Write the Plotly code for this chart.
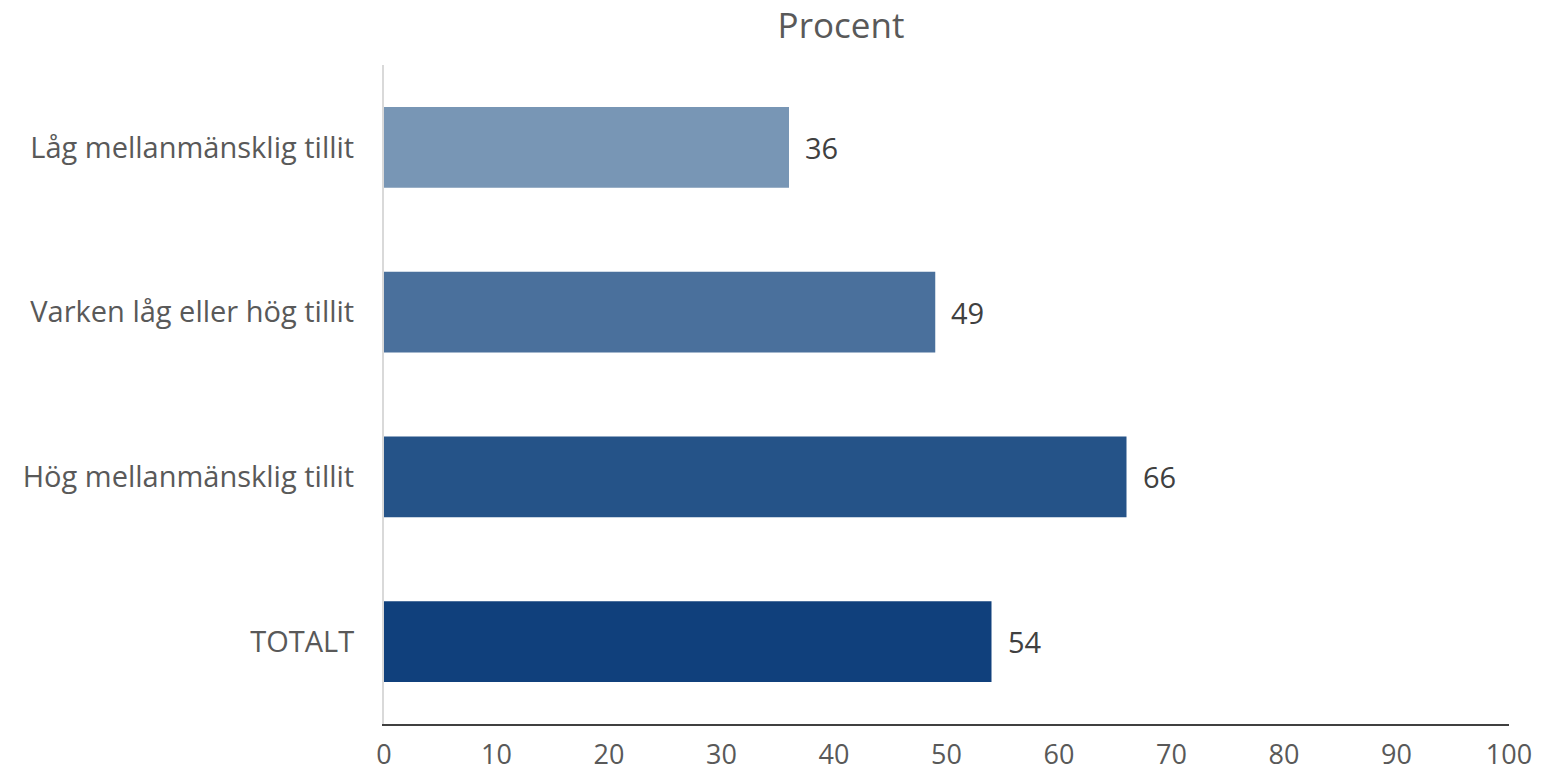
import plotly.graph_objects as go

categories = ["TOTALT", "Hög mellanmänsklig tillit", "Varken låg eller hög tillit", "Låg mellanmänsklig tillit"]
values = [54, 66, 49, 36]
colors = ["#10407C", "#255388", "#4A709C", "#7896B5"]
x_ticks = [0, 10, 20, 30, 40, 50, 60, 70, 80, 90, 100]
title_text = "Procent"

FONT = "Open Sans"

fig = go.Figure()
fig.add_trace(go.Bar(
    y=categories, x=values, orientation="h",
    marker=dict(color=colors, line=dict(width=0)),
    width=0.49, hoverinfo="skip",
))
for c, v in zip(categories, values):
    fig.add_annotation(x=v, y=c, text=str(v), showarrow=False,
                       xanchor="left", xshift=14,
                       font=dict(family=FONT, size=29, color="#404040"))

fig.update_layout(
    width=1543, height=774,
    margin=dict(l=384, r=34, t=65, b=50),
    paper_bgcolor="white", plot_bgcolor="white",
    showlegend=False,
    bargap=0.51,
    title=dict(text=title_text, x=841/1543, xanchor="center", xref="container",
               y=1-26/774, yanchor="middle", yref="container",
               font=dict(family=FONT, size=35, color="#595959")),
    font=dict(family=FONT, color="#595959"),
)
fig.update_xaxes(range=[0, 100], tickvals=x_ticks, showgrid=False, zeroline=False,
                 showline=True, linecolor="#404040", linewidth=2,
                 ticks="", tickfont=dict(family=FONT, size=27, color="#595959"),
                 ticklabelstandoff=6, automargin=False, fixedrange=True)
fig.update_yaxes(range=[-0.5, 3.5], showgrid=False, zeroline=False,
                 showline=True, linecolor="#D9D9D9", linewidth=2,
                 ticks="", tickfont=dict(family=FONT, size=29, color="#595959"),
                 ticklabelstandoff=22, automargin=False, fixedrange=True)

fig.write_html("out.html",
               config={"displayModeBar": False, "staticPlot": True},
               post_script="document.body.style.margin='0';document.body.style.overflow='hidden';")
